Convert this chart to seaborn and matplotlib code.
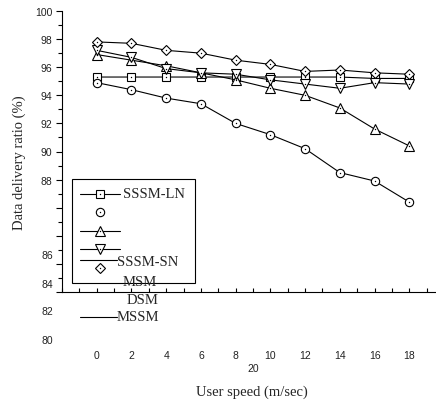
import numpy as np
import pandas as pd
import matplotlib
matplotlib.use('Agg')
import matplotlib.pyplot as plt
import seaborn as sns
from matplotlib.lines import Line2D
from matplotlib.patches import Rectangle
from matplotlib.ticker import MultipleLocator

# data
speed = [0, 2, 4, 6, 8, 10, 12, 14, 16, 18]
sssm_ln = [95.3, 95.3, 95.3, 95.3, 95.3, 95.3, 95.3, 95.3, 95.2, 95.2]
circle_series = [94.9, 94.4, 93.8, 93.4, 92.0, 91.2, 90.2, 88.5, 87.9, 86.4]
tri_up_series = [96.9, 96.5, 96.1, 95.6, 95.1, 94.5, 94.0, 93.1, 91.6, 90.4]
tri_down_series = [97.2, 96.7, 95.9, 95.6, 95.5, 95.1, 94.8, 94.5, 94.9, 94.8]
diamond_series = [97.8, 97.7, 97.2, 97.0, 96.5, 96.2, 95.7, 95.8, 95.6, 95.5]

x_ticklabels = [str(v) for v in speed]
y_labelled = [88, 90, 92, 94, 96, 98, 100]
y_shifted = ['86', '84', '82', '80']

sns.set_theme(style='white')
plt.rcParams['font.family'] = ['Liberation Sans', 'DejaVu Sans']

W, H = 436, 402
fig = plt.figure(figsize=(W / 100, H / 100), dpi=100)

def fx(px):
    return px / W

def fy(py):
    return 1 - py / H

# axes: x from -2 (px 62) to 20 (px 444), y from 80 (px 293) to 100 (px 12)
ax = fig.add_axes([fx(62), fy(293), (444 - 62) / W, (293 - 12) / H])

series = [
    (sssm_ln, 's', 6),
    (circle_series, 'o', 6),
    (tri_up_series, '^', 6.5),
    (tri_down_series, 'v', 6.5),
    (diamond_series, 'D', 5),
]
for vals, mk, ms in series:
    sns.lineplot(x=speed, y=vals, ax=ax, color='black', linewidth=0.8,
                 marker=mk, markersize=ms, markerfacecolor='white',
                 markeredgecolor='black', markeredgewidth=0.8)
    # little centre dot of the original markers
    sns.lineplot(x=speed, y=vals, ax=ax, color='black', linewidth=0,
                 marker='o', markersize=1.0, markeredgewidth=0)

ax.set_xlim(-2, 20)
ax.set_ylim(80, 100)
for s in ['top', 'right']:
    ax.spines[s].set_visible(False)
for s in ['left', 'bottom']:
    ax.spines[s].set_color('black')
    ax.spines[s].set_linewidth(0.8)
ax.set_xlabel('')
ax.set_ylabel('')

ax.set_xticks(speed)
ax.set_xticklabels(x_ticklabels)
ax.xaxis.set_minor_locator(MultipleLocator(1))
ax.tick_params(axis='x', which='both', direction='in', length=3, width=0.8,
               color='black', pad=42, labelsize=7.5, labelcolor='#222222',
               bottom=True)
ax.set_yticks(np.arange(80, 101, 2))
ax.set_yticklabels([str(v) if v in y_labelled else '' for v in np.arange(80, 101, 2)])
ax.yaxis.set_minor_locator(MultipleLocator(1))
ax.tick_params(axis='y', which='major', direction='out', length=4, width=0.8,
               color='black', pad=3, labelsize=7.5, labelcolor='#222222', left=True)
ax.tick_params(axis='y', which='minor', direction='out', length=3, width=0.8,
               color='black', left=True)

# lower y labels sit out of place in the original
for lab, py in zip(y_shifted, [256, 285, 312, 341]):
    fig.text(fx(53), fy(py), lab, ha='right', va='center', fontsize=7.5,
             color='#222222')
fig.text(fx(253), fy(369), '20', ha='center', va='center', fontsize=7.5,
         color='#222222')

serif = ['Liberation Serif', 'DejaVu Serif']
fig.text(fx(252), fy(392), 'User speed (m/sec)', ha='center', va='center',
         fontsize=10.5, family=serif)
fig.text(fx(19), fy(163), 'Data delivery ratio (%)', ha='center', va='center',
         rotation=90, fontsize=10.5, family=serif)

# broken legend box
fig.add_artist(Rectangle((fx(72), fy(284)), (195 - 72) / W, (284 - 180) / H,
                         transform=fig.transFigure, fill=False,
                         edgecolor='black', linewidth=0.8))

def leg_line(y, x0=80, x1=120, marker=None, ms=6, line=True):
    if line:
        fig.add_artist(Line2D([fx(x0), fx(x1)], [fy(y), fy(y)],
                              transform=fig.transFigure, color='black',
                              linewidth=0.8))
    if marker:
        fig.add_artist(Line2D([fx(100)], [fy(y)], transform=fig.transFigure,
                              linestyle='none', marker=marker, markersize=ms,
                              markerfacecolor='white', markeredgecolor='black',
                              markeredgewidth=0.8))
        fig.add_artist(Line2D([fx(100)], [fy(y)], transform=fig.transFigure,
                              linestyle='none', marker='o', markersize=1.0,
                              color='black', markeredgewidth=0))

leg_line(195, marker='s')
leg_line(213, marker='o', line=False)
leg_line(232, marker='^', ms=6.5)
leg_line(250, marker='v', ms=6.5)
leg_line(261, x1=117)
leg_line(269, marker='D', ms=5, line=False)
leg_line(318, x1=117)

fig.text(fx(123), fy(195), 'SSSM-LN', ha='left', va='center', fontsize=10.5, family=serif)
fig.text(fx(117), fy(263), 'SSSM-SN', ha='left', va='center', fontsize=10.5, family=serif)
fig.text(fx(123), fy(282), 'MSM', ha='left', va='center', fontsize=10.5, family=serif)
fig.text(fx(127), fy(300), 'DSM', ha='left', va='center', fontsize=10.5, family=serif)
fig.text(fx(117), fy(318), 'MSSM', ha='left', va='center', fontsize=10.5, family=serif)

fig.savefig('out.png', dpi=100, facecolor='white')
